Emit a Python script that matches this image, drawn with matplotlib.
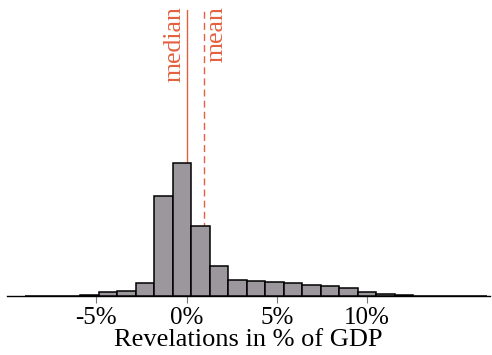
import numpy as np
import matplotlib
matplotlib.use('Agg')
import matplotlib.pyplot as plt

# histogram of revelations (% of GDP), bin width ~1.025 pp
bin_start = -8.975
bin_width = 1.025
counts = [0.3, 0.3, 0.3, 1.2, 4.3, 5.3, 12.7, 99.7, 132.7, 70.3, 29.7, 16.3,
          15.3, 14.3, 13.3, 11.0, 9.7, 7.7, 4.3, 2.3, 1.0, 0.3, 0.3, 0.3, 0.3]
median_val = 0.0
mean_val = 0.97
tick_vals = [-5, 0, 5, 10]
tick_labels = ['-5%', '0%', '5%', '10%']

plt.rcParams['font.family'] = ['Liberation Serif', 'DejaVu Serif']
plt.rcParams['axes.unicode_minus'] = False

red = '#e4603f'
bar_col = '#9b979c'

fig = plt.figure(figsize=(4.92, 3.55), dpi=100)
ax = fig.add_axes([7 / 492, 59 / 355, 483 / 492, 286 / 355])

edges = bin_start + bin_width * np.arange(len(counts))
ax.bar(edges, counts, width=bin_width, align='edge', color=bar_col,
       edgecolor='black', linewidth=1.1, zorder=3)

ax.axvline(median_val, color=red, linewidth=1.0, zorder=1)
ax.axvline(mean_val, color=red, linewidth=1.0, linestyle=(0, (5, 3)), zorder=1)
ax.text(median_val - 0.08, 1.015, 'median', rotation=90, ha='right', va='top',
        color=red, fontsize=18.5, transform=ax.get_xaxis_transform(), clip_on=False)
ax.text(mean_val + 0.08, 1.015, 'mean', rotation=90, ha='left', va='top',
        color=red, fontsize=18.5, transform=ax.get_xaxis_transform(), clip_on=False)

ax.set_xlim(-9.95, 16.8)
ax.set_ylim(0, 286)
ax.set_xticks(tick_vals)
ax.set_xticklabels(tick_labels, fontsize=18)
ax.tick_params(axis='x', length=5, color='#777777', pad=3)
ax.set_yticks([])
for s in ['left', 'top', 'right']:
    ax.spines[s].set_visible(False)
ax.spines['bottom'].set_linewidth(1.0)
ax.set_xlabel('Revelations in % of GDP', fontsize=19, labelpad=0)

fig.savefig('out.png', dpi=100)
